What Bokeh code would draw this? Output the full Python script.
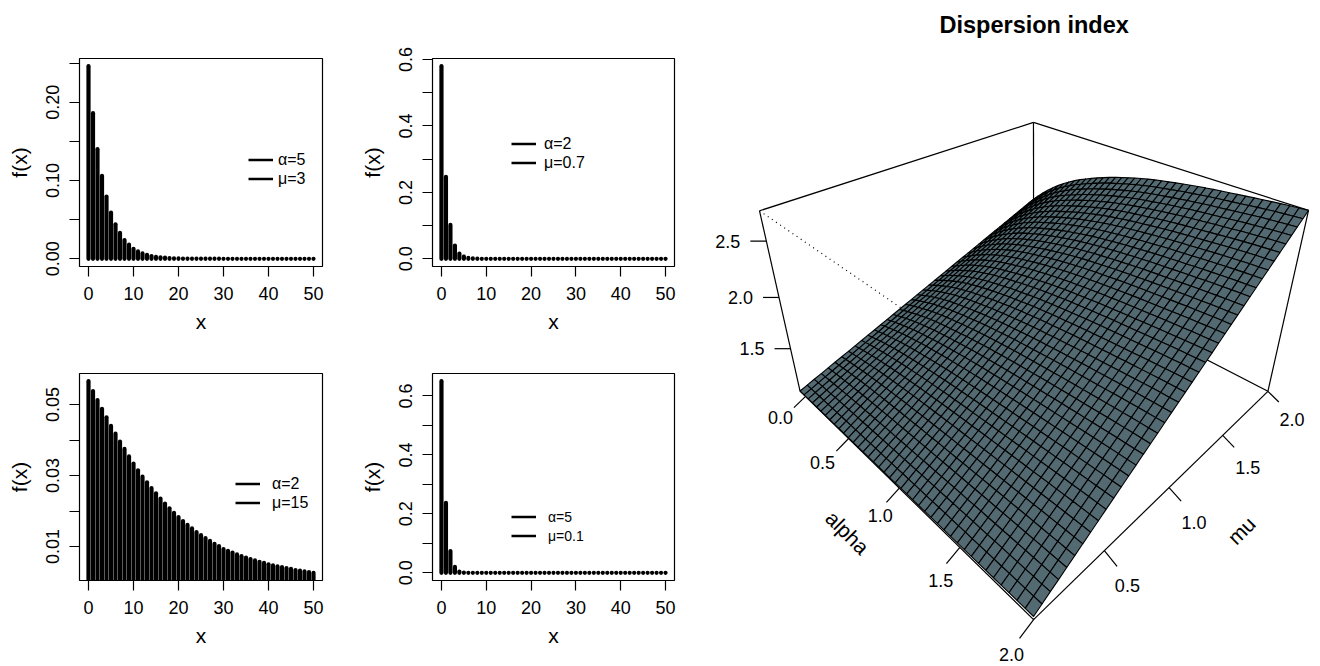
import numpy as np
from bokeh.plotting import figure
from bokeh.layouts import row, column
from bokeh.models import Range1d, FixedTicker, Legend, LegendItem
from bokeh.core.properties import value
from bokeh.embed import file_html
from bokeh.resources import INLINE

FONT = "Liberation Sans"

x_vals = list(range(51))
f_a5_m3 = [.246,.186,.140,.106,.0795,.059,.044,.033,.024,.018,.0128,.0094,.0068,.005,.0036,.0026,.0019,.0014,.001,.0007,.0005,.0004,.0003,.0002,.0002,.0001,.0001,.0001,.0001,.0001,0,0,0,0,0,0,0,0,0,0,0,0,0,0,0,0,0,0,0,0,0]
f_a2_m07 = [.58,.247,.102,.04,.016,.0065,.0026,.001,.0004,.0002,.0001,0,0,0,0,0,0,0,0,0,0,0,0,0,0,0,0,0,0,0,0,0,0,0,0,0,0,0,0,0,0,0,0,0,0,0,0,0,0,0,0]
f_a2_m15 = [.0566,.0538,.0513,.0488,.0464,.0440,.0418,.0396,.0375,.0354,.0334,.0315,.0297,.0281,.0265,.0250,.0235,.0221,.0208,.0195,.0183,.0172,.0161,.0151,.0141,.0132,.0124,.0116,.0108,.0101,.0093,.0088,.0083,.0078,.0073,.0069,.0065,.0061,.0057,.0054,.0050,.0047,.0044,.0042,.0039,.0037,.0034,.0032,.0030,.0028,.0026]
f_a5_m01 = [.65,.2376,.074,.02,.0045,.001,.0002,0,0,0,0,0,0,0,0,0,0,0,0,0,0,0,0,0,0,0,0,0,0,0,0,0,0,0,0,0,0,0,0,0,0,0,0,0,0,0,0,0,0,0,0]

def panel(w, h, borders, y, major, minor, leg_labels, leg_xy, std, leg_size, y_fmt):
    l, r, t, b = borders
    lo, hi = min(y), max(y)
    pad = 0.04 * (hi - lo)
    p = figure(width=w, height=h, min_border_left=l, min_border_right=r, min_border_top=t, min_border_bottom=b,
               x_range=Range1d(-2, 52), y_range=Range1d(lo - pad, hi + pad),
               output_backend="svg", toolbar_location=None, x_axis_label="x", y_axis_label="f(x)")
    p.grid.visible = False
    p.outline_line_color = "black"
    p.outline_line_width = 1.2
    p.xaxis.ticker = FixedTicker(ticks=[0, 10, 20, 30, 40, 50])
    p.yaxis.ticker = FixedTicker(ticks=major, minor_ticks=minor)
    p.yaxis.major_label_overrides = {m: y_fmt % m for m in major}
    p.yaxis.major_label_orientation = "vertical"
    for ax in (p.xaxis[0], p.yaxis[0]):
        ax.axis_line_color = None
        ax.major_tick_in = 0
        ax.major_tick_out = 10
        ax.minor_tick_in = 0
        ax.minor_tick_out = 10
        ax.major_tick_line_color = "black"
        ax.minor_tick_line_color = "black"
        ax.major_tick_line_width = 1.2
        ax.minor_tick_line_width = 1.2
        ax.major_label_text_font = FONT
        ax.major_label_text_font_size = "18px"
        ax.major_label_text_color = "black"
        ax.axis_label_text_font = FONT
        ax.axis_label_text_font_size = "21px"
        ax.axis_label_text_font_style = "normal"
        ax.axis_label_text_color = "black"
        ax.major_label_standoff = 10
    p.xaxis[0].axis_label_standoff = 7
    p.yaxis[0].axis_label_standoff = 13
    p.segment(x_vals, [0] * len(y), x_vals, y, line_color="black", line_width=4.2, line_cap="round")
    items = []
    for lab in leg_labels:
        rn = p.line([-100, -90], [-100, -100], line_color="black", line_width=2.5)
        items.append(LegendItem(label=lab, renderers=[rn]))
    leg = Legend(items=items, location=leg_xy, border_line_color=None, background_fill_alpha=0,
                 padding=0, margin=0, spacing=0, glyph_width=25, glyph_height=19, label_standoff=std,
                 label_text_font=FONT, label_text_font_size=leg_size, label_text_color="black", label_height=19)
    p.add_layout(leg)
    return p

p1 = panel(353, 340, (79, 31, 58, 74), f_a5_m3, [0, .1, .2], [.05, .15, .25], ["α=5", "μ=3"], (169, 78), 5, "16px", "%.2f")
p2 = panel(347, 340, (79, 26, 58, 74), f_a2_m07, [0, .2, .4, .6], [.1, .3, .5], ["α=2", "μ=0.7"], (79, 94), 8, "16px", "%.1f")
p3 = panel(353, 320, (79, 31, 33, 80), f_a2_m15, [.01, .03, .05], [.02, .04], ["α=2", "μ=15"], (156, 68), 12, "16px", "%.2f")
p4 = panel(347, 320, (79, 26, 33, 80), f_a5_m01, [0, .2, .4, .6], [.1, .3, .5], ["α=5", "μ=0.1"], (79, 35), 12, "14px", "%.1f")

# ---- perspective surface
alpha_ticks = [0.0, 0.5, 1.0, 1.5, 2.0]
mu_ticks = [0.5, 1.0, 1.5, 2.0]
z_ticks = [1.5, 2.0, 2.5]
alpha_lim = (-0.07, 2.0)
mu_lim = (0.05, 2.0)
z_lim = (1.05, 2.75)
# surface height in thousandths; one row per alpha mesh line, one value per mu mesh line
surface_z = [
 [1050,1072,1094,1115,1137,1159,1181,1202,1224,1246,1268,1289,1311,1333,1355,1376,1398,1420,1442,1463,1485,1507,1529,1550,1572,1594,1616,1637,1659,1681,1703,1724,1746,1768,1790,1811,1833,1855,1877,1898,1920],
 [1051,1074,1097,1121,1144,1167,1190,1214,1237,1260,1283,1306,1330,1353,1376,1399,1423,1446,1469,1492,1516,1539,1562,1585,1608,1632,1655,1678,1701,1725,1748,1771,1794,1817,1841,1864,1887,1910,1934,1957,1980],
 [1052,1077,1101,1126,1151,1175,1200,1224,1249,1274,1298,1323,1348,1372,1397,1421,1446,1471,1495,1520,1545,1569,1594,1618,1643,1668,1692,1717,1742,1766,1791,1815,1840,1865,1889,1914,1939,1963,1988,2012,2037],
 [1052,1078,1104,1130,1156,1182,1208,1234,1260,1286,1312,1337,1363,1389,1415,1441,1467,1493,1519,1545,1571,1597,1623,1649,1675,1701,1727,1753,1779,1805,1831,1856,1882,1908,1934,1960,1986,2012,2038,2064,2090],
 [1053,1080,1107,1134,1162,1189,1216,1243,1270,1297,1325,1352,1379,1406,1433,1460,1487,1515,1542,1569,1596,1623,1650,1677,1705,1732,1759,1786,1813,1840,1868,1895,1922,1949,1976,2003,2030,2058,2085,2112,2139],
 [1054,1082,1111,1139,1167,1195,1224,1252,1280,1308,1337,1365,1393,1422,1450,1478,1506,1535,1563,1591,1620,1648,1676,1704,1733,1761,1789,1817,1846,1874,1902,1931,1959,1987,2015,2044,2072,2100,2128,2157,2185],
 [1055,1084,1114,1143,1172,1202,1231,1260,1289,1319,1348,1377,1407,1436,1465,1495,1524,1553,1582,1612,1641,1670,1700,1729,1758,1788,1817,1846,1875,1905,1934,1963,1993,2022,2051,2081,2110,2139,2168,2198,2227],
 [1055,1085,1116,1146,1176,1206,1237,1267,1297,1327,1358,1388,1418,1448,1479,1509,1539,1569,1600,1630,1660,1690,1721,1751,1781,1811,1842,1872,1902,1932,1963,1993,2023,2053,2084,2114,2144,2174,2205,2235,2265],
 [1056,1087,1118,1149,1180,1212,1243,1274,1305,1336,1367,1398,1429,1460,1491,1523,1554,1585,1616,1647,1678,1709,1740,1771,1802,1834,1865,1896,1927,1958,1989,2020,2051,2082,2113,2145,2176,2207,2238,2269,2300],
 [1057,1089,1121,1153,1185,1216,1248,1280,1312,1344,1376,1408,1440,1471,1503,1535,1567,1599,1631,1663,1695,1726,1758,1790,1822,1854,1886,1918,1950,1981,2013,2045,2077,2109,2141,2173,2205,2236,2268,2300,2332],
 [1058,1091,1123,1156,1188,1221,1253,1286,1318,1351,1384,1416,1449,1481,1514,1546,1579,1611,1644,1676,1709,1742,1774,1807,1839,1872,1904,1937,1969,2002,2035,2067,2100,2132,2165,2197,2230,2262,2295,2327,2360],
 [1058,1091,1124,1158,1191,1224,1257,1291,1324,1357,1390,1423,1457,1490,1523,1556,1590,1623,1656,1689,1723,1756,1789,1822,1855,1889,1922,1955,1988,2022,2055,2088,2121,2154,2188,2221,2254,2287,2321,2354,2387],
 [1059,1093,1127,1161,1194,1228,1262,1296,1330,1364,1398,1431,1465,1499,1533,1567,1601,1634,1668,1702,1736,1770,1804,1838,1871,1905,1939,1973,2007,2041,2075,2108,2142,2176,2210,2244,2278,2311,2345,2379,2413],
 [1060,1094,1129,1163,1198,1232,1267,1301,1335,1370,1404,1439,1473,1508,1542,1576,1611,1645,1680,1714,1749,1783,1817,1852,1886,1921,1955,1989,2024,2058,2093,2127,2162,2196,2230,2265,2299,2334,2368,2403,2437],
 [1061,1096,1131,1166,1201,1236,1271,1306,1341,1376,1411,1446,1481,1516,1551,1586,1621,1656,1691,1726,1761,1795,1830,1865,1900,1935,1970,2005,2040,2075,2110,2145,2180,2215,2250,2285,2320,2355,2390,2425,2460],
 [1061,1097,1132,1168,1203,1239,1274,1310,1345,1381,1416,1452,1487,1523,1558,1594,1629,1665,1700,1736,1771,1807,1842,1878,1913,1949,1984,2020,2055,2091,2126,2162,2197,2233,2268,2304,2339,2375,2410,2446,2481],
 [1062,1098,1134,1170,1206,1242,1278,1314,1350,1386,1422,1458,1494,1530,1566,1602,1638,1674,1710,1746,1782,1817,1853,1889,1925,1961,1997,2033,2069,2105,2141,2177,2213,2249,2285,2321,2357,2393,2429,2465,2501],
 [1063,1099,1136,1172,1209,1245,1282,1318,1354,1391,1427,1464,1500,1537,1573,1609,1646,1682,1719,1755,1792,1828,1864,1901,1937,1974,2010,2046,2083,2119,2156,2192,2229,2265,2301,2338,2374,2411,2447,2484,2520],
 [1064,1101,1138,1175,1211,1248,1285,1322,1359,1396,1433,1469,1506,1543,1580,1617,1654,1690,1727,1764,1801,1838,1875,1912,1948,1985,2022,2059,2096,2133,2170,2206,2243,2280,2317,2354,2391,2427,2464,2501,2538],
 [1064,1101,1139,1176,1213,1250,1288,1325,1362,1399,1437,1474,1511,1549,1586,1623,1660,1698,1735,1772,1810,1847,1884,1921,1959,1996,2033,2070,2108,2145,2182,2220,2257,2294,2331,2369,2406,2443,2480,2518,2555],
 [1065,1103,1140,1178,1216,1253,1291,1328,1366,1404,1441,1479,1517,1554,1592,1629,1667,1705,1742,1780,1818,1855,1893,1930,1968,2006,2043,2081,2119,2156,2194,2231,2269,2307,2344,2382,2420,2457,2495,2532,2570],
 [1066,1104,1142,1180,1218,1256,1294,1332,1370,1408,1446,1483,1521,1559,1597,1635,1673,1711,1749,1787,1825,1863,1901,1939,1977,2015,2053,2091,2129,2167,2205,2242,2280,2318,2356,2394,2432,2470,2508,2546,2584],
 [1067,1105,1144,1182,1220,1258,1297,1335,1373,1411,1450,1488,1526,1564,1603,1641,1679,1717,1756,1794,1832,1870,1909,1947,1985,2023,2062,2100,2138,2176,2215,2253,2291,2329,2368,2406,2444,2482,2521,2559,2597],
 [1067,1106,1144,1183,1221,1260,1298,1337,1375,1414,1453,1491,1530,1568,1607,1645,1684,1722,1761,1799,1838,1877,1915,1954,1992,2031,2069,2108,2146,2185,2224,2262,2301,2339,2378,2416,2455,2493,2532,2570,2609],
 [1068,1107,1146,1184,1223,1262,1301,1340,1379,1417,1456,1495,1534,1573,1612,1650,1689,1728,1767,1806,1845,1883,1922,1961,2000,2039,2077,2116,2155,2194,2233,2272,2310,2349,2388,2427,2466,2505,2543,2582,2621],
 [1069,1108,1147,1186,1225,1264,1303,1343,1382,1421,1460,1499,1538,1577,1616,1655,1694,1733,1772,1811,1851,1890,1929,1968,2007,2046,2085,2124,2163,2202,2241,2280,2319,2358,2398,2437,2476,2515,2554,2593,2632],
 [1070,1109,1149,1188,1227,1267,1306,1345,1385,1424,1463,1503,1542,1581,1621,1660,1699,1739,1778,1817,1857,1896,1935,1974,2014,2053,2092,2132,2171,2210,2250,2289,2328,2368,2407,2446,2486,2525,2564,2604,2643],
 [1070,1110,1149,1189,1228,1268,1307,1347,1387,1426,1466,1505,1545,1584,1624,1664,1703,1743,1782,1822,1862,1901,1941,1980,2020,2059,2099,2139,2178,2218,2257,2297,2336,2376,2416,2455,2495,2534,2574,2613,2653],
 [1071,1111,1151,1190,1230,1270,1310,1350,1389,1429,1469,1509,1549,1588,1628,1668,1708,1748,1787,1827,1867,1907,1947,1986,2026,2066,2106,2146,2185,2225,2265,2305,2345,2384,2424,2464,2504,2544,2583,2623,2663],
 [1072,1112,1152,1192,1232,1272,1312,1352,1392,1432,1472,1512,1552,1592,1632,1672,1712,1752,1792,1832,1872,1912,1952,1992,2032,2072,2112,2152,2192,2232,2272,2312,2352,2392,2432,2472,2512,2552,2592,2632,2672],
 [1073,1113,1153,1194,1234,1274,1314,1354,1394,1435,1475,1515,1555,1595,1635,1676,1716,1756,1796,1836,1877,1917,1957,1997,2037,2077,2118,2158,2198,2238,2278,2318,2359,2399,2439,2479,2519,2559,2600,2640,2680],
 [1073,1113,1154,1194,1235,1275,1315,1356,1396,1436,1477,1517,1558,1598,1638,1679,1719,1759,1800,1840,1881,1921,1961,2002,2042,2082,2123,2163,2204,2244,2284,2325,2365,2405,2446,2486,2527,2567,2607,2648,2688],
 [1074,1115,1155,1196,1236,1277,1317,1358,1398,1439,1480,1520,1561,1601,1642,1682,1723,1763,1804,1844,1885,1926,1966,2007,2047,2088,2128,2169,2209,2250,2291,2331,2372,2412,2453,2493,2534,2574,2615,2655,2696],
 [1075,1116,1156,1197,1238,1279,1319,1360,1401,1442,1482,1523,1564,1604,1645,1686,1727,1767,1808,1849,1890,1930,1971,2012,2052,2093,2134,2175,2215,2256,2297,2338,2378,2419,2460,2500,2541,2582,2623,2663,2704],
 [1076,1117,1158,1199,1240,1281,1321,1362,1403,1444,1485,1526,1567,1608,1649,1690,1730,1771,1812,1853,1894,1935,1976,2017,2058,2099,2139,2180,2221,2262,2303,2344,2385,2426,2467,2508,2548,2589,2630,2671,2712],
 [1076,1117,1158,1199,1240,1282,1323,1364,1405,1446,1487,1528,1569,1610,1651,1693,1734,1775,1816,1857,1898,1939,1980,2021,2062,2104,2145,2186,2227,2268,2309,2350,2391,2432,2473,2515,2556,2597,2638,2679,2720],
 [1077,1118,1160,1201,1242,1283,1325,1366,1407,1448,1490,1531,1572,1613,1655,1696,1737,1778,1820,1861,1902,1943,1985,2026,2067,2108,2150,2191,2232,2273,2315,2356,2397,2438,2480,2521,2562,2603,2645,2686,2727],
 [1078,1119,1161,1202,1244,1285,1326,1368,1409,1451,1492,1533,1575,1616,1658,1699,1740,1782,1823,1865,1906,1947,1989,2030,2072,2113,2154,2196,2237,2279,2320,2361,2403,2444,2486,2527,2568,2610,2651,2693,2734],
 [1079,1121,1162,1204,1245,1287,1328,1370,1411,1453,1494,1536,1577,1619,1660,1702,1743,1785,1826,1868,1910,1951,1993,2034,2076,2117,2159,2200,2242,2283,2325,2366,2408,2449,2491,2532,2574,2615,2657,2698,2740],
 [1079,1121,1162,1204,1246,1287,1329,1371,1412,1454,1496,1537,1579,1620,1662,1704,1745,1787,1829,1870,1912,1954,1995,2037,2079,2120,2162,2204,2245,2287,2329,2370,2412,2453,2495,2537,2578,2620,2662,2703,2745],
 [1080,1122,1164,1205,1247,1289,1331,1372,1414,1456,1498,1539,1581,1623,1665,1706,1748,1790,1832,1873,1915,1957,1999,2040,2082,2124,2166,2207,2249,2291,2333,2374,2416,2458,2500,2541,2583,2625,2667,2708,2750],
]

box_norm = [(0,0,0),(0,0,1),(1,0,0),(1,0,1),(1,1,0),(1,1,1),(0,1,0),(0,1,1)]
box_px = [(797,387),(762,209),(1033,618),(1033,408),(1270,387),(1305,209),(1033,276),(1033,119)]
rows = []
for (a, b, c), (px, py) in zip(box_norm, box_px):
    rows.append([a, b, c, 1, 0, 0, 0, 0, -px * a, -px * b, -px * c, -px])
    rows.append([0, 0, 0, 0, a, b, c, 1, -py * a, -py * b, -py * c, -py])
CAM = np.linalg.svd(np.array(rows, float))[2][-1].reshape(3, 4)

def proj(a, m, z):
    u = (a - alpha_lim[0]) / (alpha_lim[1] - alpha_lim[0])
    v = (m - mu_lim[0]) / (mu_lim[1] - mu_lim[0])
    t = (z - z_lim[0]) / (z_lim[1] - z_lim[0])
    q = CAM @ np.array([u, v, t, 1.0])
    return q[0] / q[2], q[1] / q[2]

p5 = figure(width=616, height=664, min_border_left=0, min_border_right=0, min_border_top=42, min_border_bottom=0,
            x_range=Range1d(700, 1316), y_range=Range1d(664, 42), x_axis_type=None, y_axis_type=None,
            output_backend="svg", toolbar_location=None, title="Dispersion index")
p5.grid.visible = False
p5.outline_line_color = None
p5.title.text_font = FONT
p5.title.text_font_size = "23.5px"
p5.title.text_font_style = "bold"
p5.title.text_color = "black"
p5.title.align = "left"
p5.title.offset = 239

al0, al1 = alpha_lim
mu0, mu1 = mu_lim
zl0, zl1 = z_lim
A0, A1 = (al0, mu0, zl0), (al0, mu0, zl1)
B0, B1 = (al1, mu0, zl0), (al1, mu0, zl1)
C0, C1 = (al1, mu1, zl0), (al1, mu1, zl1)
D0, D1 = (al0, mu1, zl0), (al0, mu1, zl1)

def lines(pairs, **kw):
    xs, ys = [], []
    for a, b in pairs:
        pa, pb = proj(*a), proj(*b)
        xs.append([pa[0], pb[0]])
        ys.append([pa[1], pb[1]])
    p5.multi_line(xs, ys, line_color="black", **kw)

lines([(A1, B1), (B1, C1), (B0, B1)], line_width=1.2, line_dash="1 4")
lines([(A0, A1), (C0, C1), (D0, D1), (A1, D1), (D1, C1), (A0, B0), (B0, C0), (C0, D0), (D0, A0)], line_width=1.2)

za = np.array(surface_z, float) / 1000.0
ni, nj = za.shape
al = [al0 + (al1 - al0) * i / (ni - 1) for i in range(ni)]
mm = [mu0 + (mu1 - mu0) * j / (nj - 1) for j in range(nj)]
qx, qy = [], []
for i in range(ni - 1):
    for j in range(nj - 2, -1, -1):
        pts = [proj(al[i], mm[j], za[i, j]), proj(al[i + 1], mm[j], za[i + 1, j]),
               proj(al[i + 1], mm[j + 1], za[i + 1, j + 1]), proj(al[i], mm[j + 1], za[i, j + 1])]
        qx.append([q[0] for q in pts])
        qy.append([q[1] for q in pts])
p5.patches(qx, qy, fill_color="#536a72", line_color="black", line_width=1.1)

TICK_M, TICK_A, TICK_Z = 0.08, 0.08, 0.05
tk = [((a, mu0, zl0), (a, mu0 - TICK_M, zl0 - TICK_Z)) for a in alpha_ticks]
tk += [((al1, m, zl0), (al1 + TICK_A, m, zl0 - TICK_Z)) for m in mu_ticks]
lines(tk, line_width=1.2)

tx, ty, tl, tick_x0, tick_x1, tick_y = [], [], [], [], [], []
alpha_label_off = [(-25, 21), (-26, 24), (-19, 27), (-19, 33), (-22, 35)]
for a, off in zip(alpha_ticks, alpha_label_off):
    q = proj(a, mu0, zl0)
    tx.append(q[0] + off[0]); ty.append(q[1] + off[1]); tl.append("%.1f" % a)
mu_label_off = [(23, 35), (25, 35), (25, 32), (24, 28)]
for m, off in zip(mu_ticks, mu_label_off):
    q = proj(al1, m, zl0)
    tx.append(q[0] + off[0]); ty.append(q[1] + off[1]); tl.append("%.1f" % m)
p5.text(tx, ty, text=tl, text_font=value(FONT), text_font_size="18px", text_align="center", text_baseline="middle", text_color="black")
zx, zy, zl = [], [], []
for z in z_ticks:
    q = proj(al0, mu0, z)
    tick_x0.append(q[0]); tick_x1.append(q[0] - 16); tick_y.append(q[1])
    zx.append(q[0] - 26); zy.append(q[1]); zl.append("%.1f" % z)
p5.segment(tick_x0, tick_y, tick_x1, tick_y, line_color="black", line_width=1.2)
p5.text(zx, zy, text=zl, text_font=value(FONT), text_font_size="18px", text_align="right", text_baseline="middle", text_color="black")
p5.text([847], [532], text=["alpha"], angle=[-0.785], text_font=value(FONT), text_font_size="21px", text_align="center", text_baseline="middle", text_color="black")
p5.text([1241], [530], text=["mu"], angle=[0.785], text_font=value(FONT), text_font_size="21px", text_align="center", text_baseline="middle", text_color="black")

page = row(column(row(p1, p2), row(p3, p4)), p5)
open("out.html", "w").write(file_html(page, INLINE))
